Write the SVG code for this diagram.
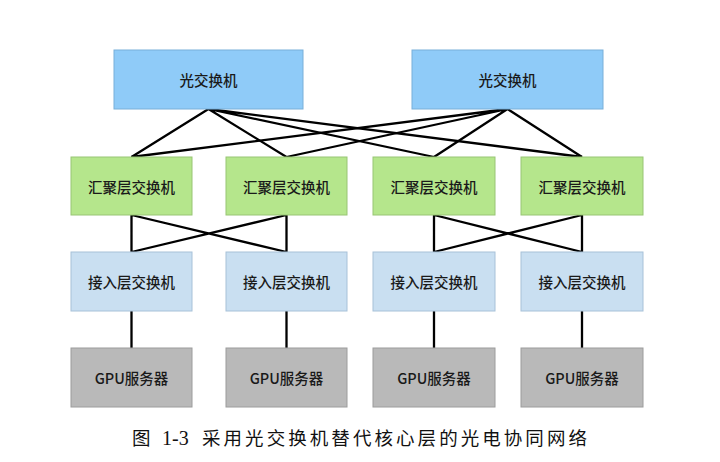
<svg xmlns="http://www.w3.org/2000/svg" width="720" height="462" viewBox="0 0 720 462">
<style>
.lbl{font-family:"Noto Sans CJK SC","Liberation Sans",sans-serif;font-size:14.5px;font-weight:500;fill:#1a1a1a;text-anchor:middle;dominant-baseline:central}
.core{fill:#8fcbf8;stroke:#79afd9;stroke-width:1}
.agg{fill:#b5e68c;stroke:#98c574;stroke-width:1}
.acc{fill:#c9dff1;stroke:#a7c1d8;stroke-width:1}
.gpu{fill:#b9b9b9;stroke:#9c9c9c;stroke-width:1}
.ln{stroke:#000;stroke-width:2.3;fill:none;stroke-linejoin:round}
.cap{font-family:"Noto Sans CJK SC",sans-serif;font-size:18.5px;fill:#111}
</style>
<rect width="720" height="462" fill="#ffffff"/>
<g id="connectors">
<path class="ln" d="M208.5 109 L131.5 157 M208.5 109 L286.5 157 M208.5 109 L434 157 M208.5 109 L582 157"/>
<path class="ln" d="M507.5 109 L131.5 157 M507.5 109 L286.5 157 M507.5 109 L434 157 M507.5 109 L582 157"/>
<path class="ln" d="M131.5 215 L131.5 252 M286.5 215 L286.5 252 M131.5 215 L286.5 252 M286.5 215 L131.5 252"/>
<path class="ln" d="M434 215 L434 252 M582 215 L582 252 M434 215 L582 252 M582 215 L434 252"/>
<path class="ln" d="M131.5 311 L131.5 348 M286.5 311 L286.5 348 M434 311 L434 348 M582 311 L582 348"/>
</g>
<g id="core1"><rect class="core" x="114" y="50" width="189" height="59"/><text class="lbl" x="208.5" y="79.5">光交换机</text></g>
<g id="core2"><rect class="core" x="412" y="50" width="191" height="59"/><text class="lbl" x="507.5" y="79.5">光交换机</text></g>
<g id="agg1"><rect class="agg" x="71" y="157" width="121" height="58"/><text class="lbl" x="131.5" y="186">汇聚层交换机</text></g>
<g id="agg2"><rect class="agg" x="226" y="157" width="121" height="58"/><text class="lbl" x="286.5" y="186">汇聚层交换机</text></g>
<g id="agg3"><rect class="agg" x="373" y="157" width="122" height="58"/><text class="lbl" x="434" y="186">汇聚层交换机</text></g>
<g id="agg4"><rect class="agg" x="521" y="157" width="122" height="58"/><text class="lbl" x="582" y="186">汇聚层交换机</text></g>
<g id="acc1"><rect class="acc" x="71" y="252" width="121" height="59"/><text class="lbl" x="131.5" y="281.5">接入层交换机</text></g>
<g id="acc2"><rect class="acc" x="226" y="252" width="121" height="59"/><text class="lbl" x="286.5" y="281.5">接入层交换机</text></g>
<g id="acc3"><rect class="acc" x="373" y="252" width="122" height="59"/><text class="lbl" x="434" y="281.5">接入层交换机</text></g>
<g id="acc4"><rect class="acc" x="521" y="252" width="122" height="59"/><text class="lbl" x="582" y="281.5">接入层交换机</text></g>
<g id="gpu1"><rect class="gpu" x="71" y="348" width="121" height="59"/><text class="lbl" x="131.5" y="377.5">GPU服务器</text></g>
<g id="gpu2"><rect class="gpu" x="226" y="348" width="121" height="59"/><text class="lbl" x="286.5" y="377.5">GPU服务器</text></g>
<g id="gpu3"><rect class="gpu" x="373" y="348" width="122" height="59"/><text class="lbl" x="434" y="377.5">GPU服务器</text></g>
<g id="gpu4"><rect class="gpu" x="521" y="348" width="122" height="59"/><text class="lbl" x="582" y="377.5">GPU服务器</text></g>
<g id="caption">
<text class="cap" x="132" y="445">图</text>
<text x="162" y="445" style="font-family:'Liberation Serif',serif;font-size:20px;fill:#111">1-3</text>
<text class="cap" x="202" y="445" textLength="385" lengthAdjust="spacing">采用光交换机替代核心层的光电协同网络</text>
</g>
</svg>
